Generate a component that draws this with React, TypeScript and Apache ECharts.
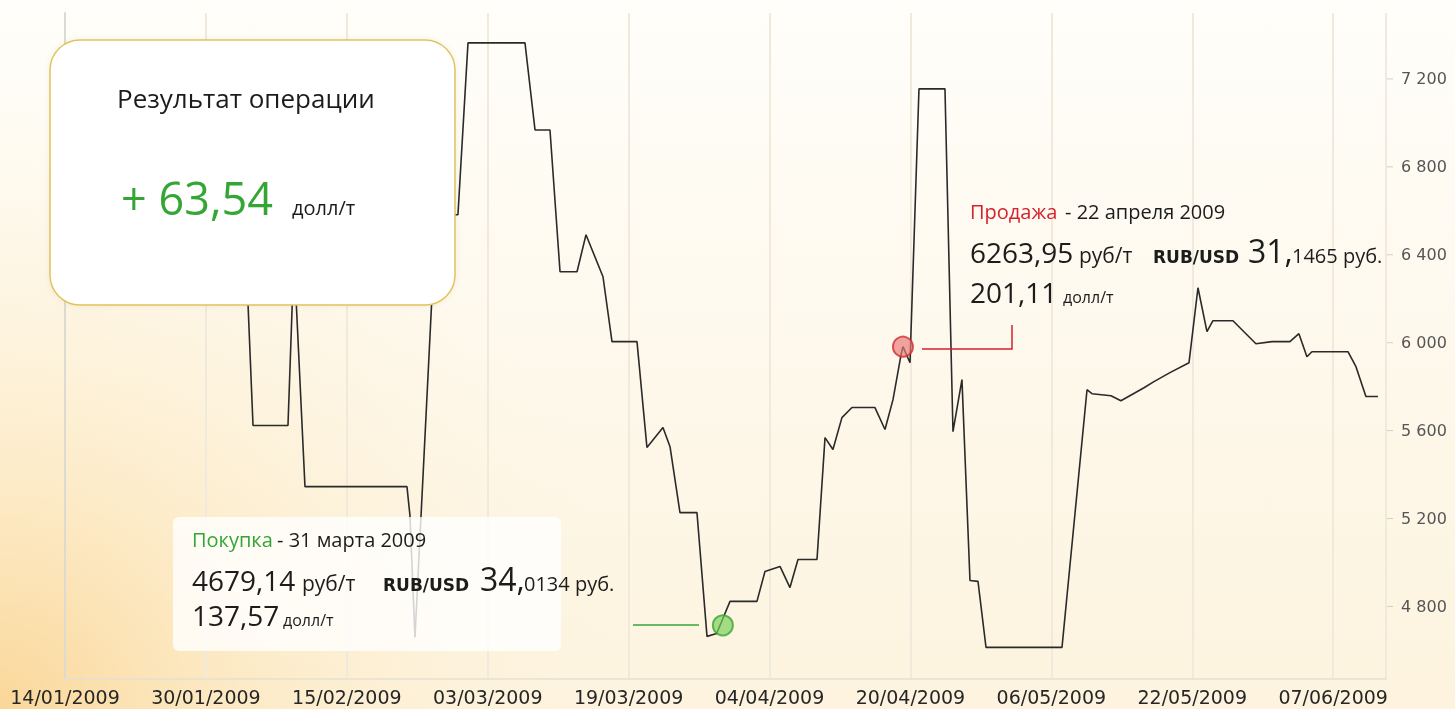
import React, { useEffect, useRef } from 'react';
import * as echarts from 'echarts';

// ---- data (x = days since 14/01/2009, y = price, руб/т) ----
const START_UTC = Date.UTC(2009, 0, 14);
const dayOffsets = [
  0, 1.1, 3.4, 4.5, 6.8, 7.9, 10.2, 11.4, 14.8, 15.9, 18.2, 19.3, 20.5,
  21.35, 25.32, 26.0, 27.25, 38.83, 39.17, 39.74, 42.13, 44.62, 45.76, 52.23,
  53.37, 55.07, 56.21, 58.14, 59.16, 61.09, 62.11, 64.95, 66.08, 67.9, 68.7,
  69.83, 71.76, 72.9, 74.0, 75.51, 78.57, 79.48, 81.19, 82.32, 83.23, 85.39,
  86.3, 87.2, 88.22, 89.36, 91.97, 93.11, 94.02, 94.93, 95.15, 95.95, 96.97,
  99.92, 100.83, 101.85, 102.76, 103.67, 104.58, 113.21, 116.05, 116.61,
  118.77, 119.9, 122.52, 123.65, 125.47, 127.63, 128.65, 129.67, 130.35,
  132.62, 135.23, 137.05, 139.09, 140.11, 141.02, 141.59, 145.68, 146.59,
  147.72, 149.09,
];
const prices = [
  6900, 6950, 6950, 6800, 6800, 6850, 6850, 6700, 6700, 6750, 6750, 6600, 6450,
  5623, 5623, 6400, 5345, 5345, 5214, 4659, 6582, 6582, 7364, 7364,
  6968, 6968, 6323, 6323, 6491, 6300, 6005, 6005, 5523, 5614, 5527,
  5227, 5227, 4664, 4677, 4823, 4823, 4959, 4982, 4886, 5014, 5014,
  5568, 5514, 5659, 5705, 5705, 5605, 5741, 5945, 5982, 5909, 7155,
  7155, 5595, 5832, 4918, 4914, 4614, 4614, 5786, 5768,
  5759, 5736, 5795, 5823, 5864, 5909, 6250, 6050, 6100,
  6100, 5995, 6005, 6005, 6041, 5936, 5959, 5959, 5891,
  5755, 5755,
];
const buyPoint = [74.7, 4714];
const sellPoint = [95.15, 5982];
const yTickValues = [4800, 5200, 5600, 6000, 6400, 6800, 7200];
const xTickDays = [0, 16, 32, 48, 64, 80, 96, 112, 128, 144];
const X_MAX = 150;

const fmtDate = (day: number) => {
  const d = new Date(START_UTC + day * 86400000);
  const dd = String(d.getUTCDate()).padStart(2, '0');
  const mm = String(d.getUTCMonth() + 1).padStart(2, '0');
  return `${dd}/${mm}/${d.getUTCFullYear()}`;
};
const fmtThousands = (v: number) => String(v).replace(/\B(?=(\d{3})+(?!\d))/g, ' ');

const OS = "'Open Sans', sans-serif";
const DJ = "'DejaVu Sans', sans-serif";
const GREEN = '#35a635';
const RED = '#d4222e';
const INK = '#1c1c1c';

function txt(text: string, x: number, baseline: number, size: number, fill: string, weight = 'normal', family = OS) {
  const k = family === DJ ? 0.346 : 0.388;
  return {
    type: 'text',
    x,
    y: baseline - k * size,
    z: 20,
    silent: true,
    style: {
      text,
      fill,
      fontSize: size,
      fontFamily: family,
      fontWeight: weight,
      align: 'left',
      verticalAlign: 'middle',
      lineHeight: size,
    },
  };
}

export default function App() {
  const ref = useRef<HTMLDivElement>(null);
  useEffect(() => {
    if (!ref.current) return;
    const chart = echarts.init(ref.current, undefined, { renderer: 'svg' });
    const lineData = dayOffsets.map((d, i) => [d, prices[i]]);

    const graphics: any[] = [
      {
        type: 'rect', z: -10, silent: true,
        shape: { x: 0, y: 0, width: 1455, height: 709 },
        style: {
          fill: new echarts.graphic.LinearGradient(0, 0, 0, 1, [
            { offset: 0, color: '#fffefa' },
            { offset: 1, color: '#fdf3de' },
          ]),
        },
      },
      {
        type: 'circle', z: -9, silent: true,
        shape: { cx: 0, cy: 709, r: 640 },
        style: {
          fill: new echarts.graphic.RadialGradient(0.5, 0.5, 0.5, [
            { offset: 0, color: 'rgba(250,210,140,0.85)' },
            { offset: 0.45, color: 'rgba(252,228,180,0.45)' },
            { offset: 1, color: 'rgba(253,244,224,0)' },
          ]),
        },
      },
      // result box
      {
        type: 'rect', z: 15, silent: true,
        shape: { x: 50, y: 40, width: 405, height: 265, r: 30 },
        style: { fill: '#ffffff', stroke: '#e1c45a', lineWidth: 1.5, shadowBlur: 6, shadowColor: 'rgba(0,0,0,0.06)' },
      },
      txt('Результат операции', 117, 108, 26, INK),
      txt('+ 63,54', 121, 215, 45, GREEN),
      txt('долл/т', 292, 215, 20, INK),
      // buy panel
      {
        type: 'rect', z: 15, silent: true,
        shape: { x: 173, y: 517, width: 388, height: 134, r: 6 },
        style: { fill: 'rgba(255,255,255,0.8)' },
      },
      txt('Покупка', 192, 547, 20, GREEN),
      txt('- 31 марта 2009', 277, 547, 20, INK),
      txt('4679,14', 192, 591, 28, INK),
      txt('руб/т', 302, 591, 21, INK),
      txt('RUB/USD', 383, 591, 17, INK, 'bold', DJ),
      txt('34,', 480, 591, 32, INK),
      txt('0134 руб.', 524, 591, 20, INK),
      txt('137,57', 192, 626, 28, INK),
      txt('долл/т', 283, 626, 16, INK),
      // sell annotation
      txt('Продажа', 970, 219, 20, RED),
      txt('- 22 апреля 2009', 1065, 219, 20, INK),
      txt('6263,95', 970, 263, 28, INK),
      txt('руб/т', 1079, 263, 21, INK),
      txt('RUB/USD', 1153, 263, 17, INK, 'bold', DJ),
      txt('31,', 1248, 263, 32, INK),
      txt('1465 руб.', 1292, 263, 20, INK),
      txt('201,11', 970, 303, 28, INK),
      txt('долл/т', 1063, 303, 16, INK),
      // leader lines
      {
        type: 'line', z: 20, silent: true,
        shape: { x1: 633, y1: 625, x2: 699, y2: 625 },
        style: { stroke: GREEN, lineWidth: 1.5 },
      },
      {
        type: 'polyline', z: 20, silent: true,
        shape: { points: [[922, 349], [1012, 349], [1012, 325]] },
        style: { stroke: RED, lineWidth: 1.5, fill: null },
      },
    ];

    chart.setOption({
      animation: false,
      backgroundColor: 'transparent',
      grid: { left: 65, right: 69, top: 13, bottom: 30, containLabel: false },
      xAxis: {
        type: 'value',
        min: 0,
        max: X_MAX,
        interval: 16,
        axisLine: { show: true, lineStyle: { color: '#e4e0d2', width: 1.5 } },
        axisTick: { show: false },
        splitLine: { show: true, lineStyle: { color: '#efeadc', width: 2 } },
        axisLabel: {
          customValues: xTickDays,
          formatter: (v: number) => fmtDate(v),
          color: '#262626',
          fontFamily: DJ,
          fontSize: 19,
          margin: 8,
        },
      },
      yAxis: {
        type: 'value',
        position: 'right',
        min: 4470,
        max: 7500,
        axisLine: { show: true, lineStyle: { color: '#dddad2', width: 2 } },
        axisTick: { show: false },
        splitLine: { show: false },
        axisLabel: {
          customValues: yTickValues,
          formatter: (v: number) => fmtThousands(v),
          color: '#555',
          fontFamily: DJ,
          fontSize: 16,
          margin: 15,
        },
      },
      series: [
        {
          type: 'line',
          data: lineData,
          showSymbol: false,
          z: 3,
          lineStyle: { color: '#2a2a2a', width: 1.6 },
        },
        {
          type: 'scatter',
          z: 5,
          symbolSize: 20,
          data: [
            { value: buyPoint, itemStyle: { color: 'rgba(118,208,88,0.85)', borderColor: '#3aa535', borderWidth: 2 } },
            { value: sellPoint, itemStyle: { color: 'rgba(232,122,118,0.85)', borderColor: '#cf2d36', borderWidth: 2 } },
          ],
        },
      ],
      graphic: graphics,
    });

    // small outward ticks on the right axis, placed through the axis scale
    const axisX = chart.convertToPixel({ xAxisIndex: 0 }, X_MAX) as number;
    const ticks = yTickValues.map((v) => {
      const y = chart.convertToPixel({ yAxisIndex: 0 }, v) as number;
      return {
        type: 'line', z: 6, silent: true,
        shape: { x1: axisX + 1, y1: y, x2: axisX + 7, y2: y },
        style: { stroke: '#cfcfcf', lineWidth: 1 },
      };
    });
    chart.setOption({ graphic: [...graphics, ...ticks] });

    return () => chart.dispose();
  }, []);
  return <div ref={ref} style={{ position: 'fixed', left: 0, top: 0, width: 1455, height: 709 }} />;
}
